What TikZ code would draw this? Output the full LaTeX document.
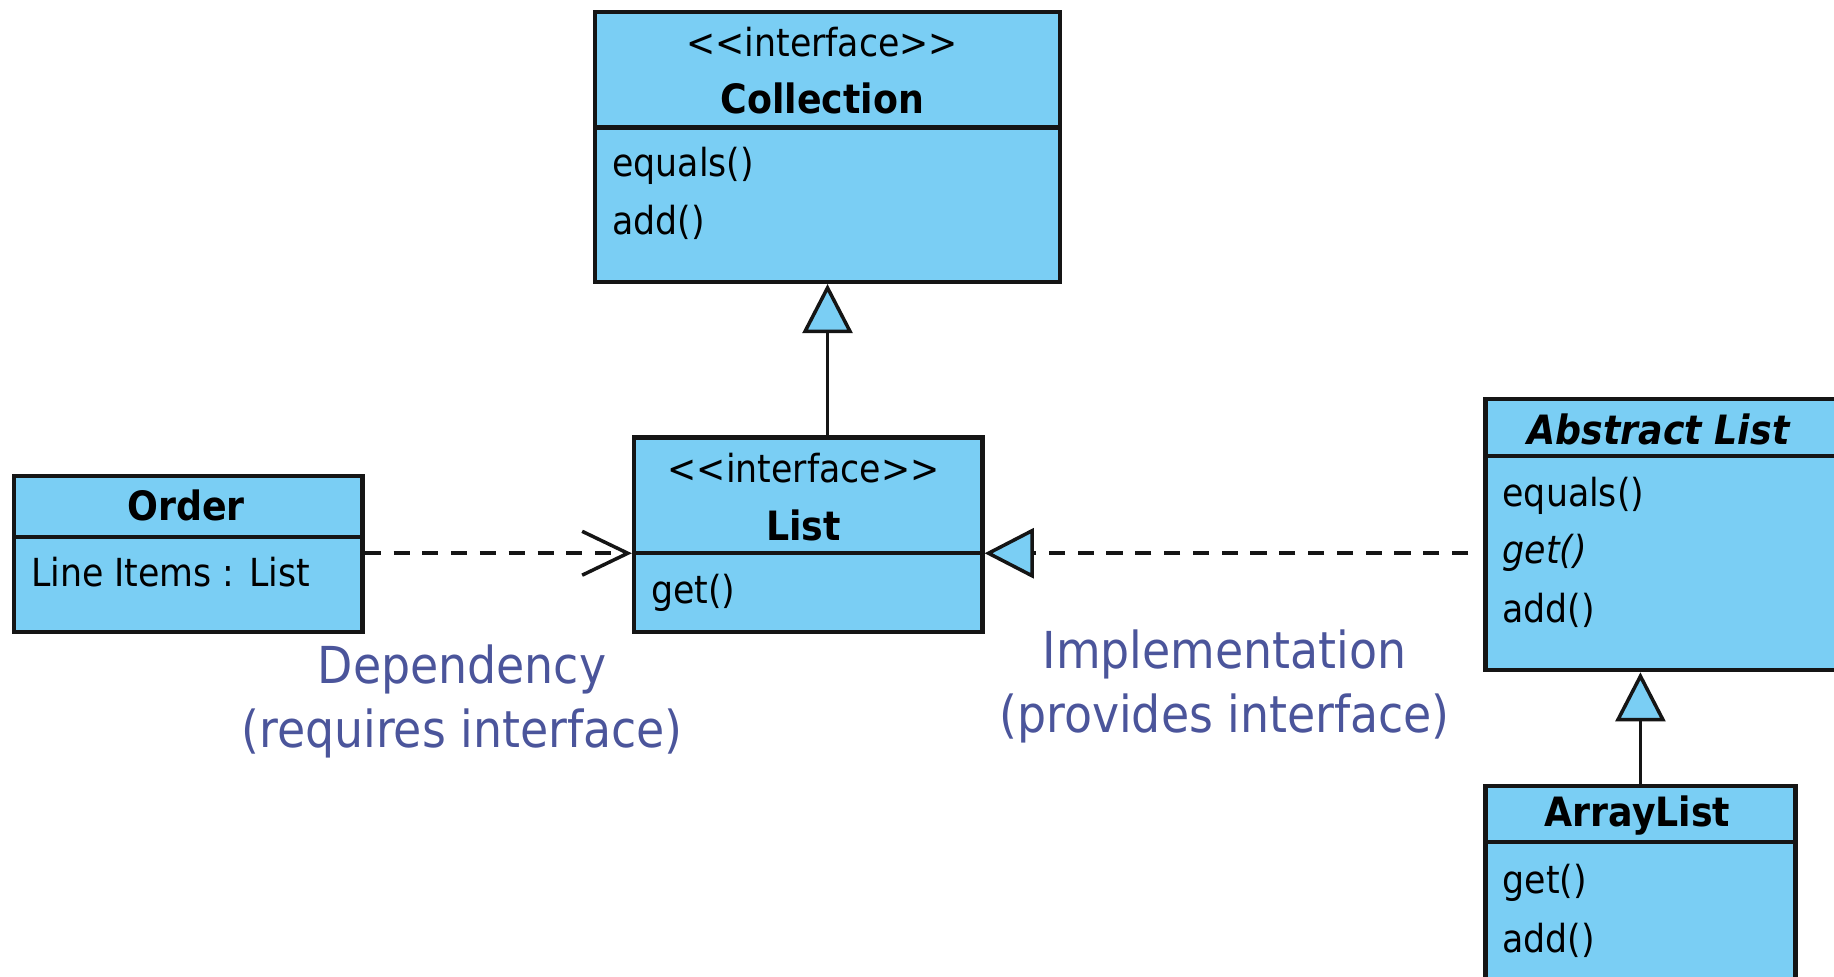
\documentclass[tikz,border=0pt]{standalone}
\usepackage{fontspec}
\setmainfont{DejaVu Sans Condensed}
\newfontfamily\umlfont{DejaVu Sans Condensed}
\usetikzlibrary{arrows.meta,fit}
\definecolor{umlblue}{HTML}{7ACEF4}
\definecolor{umlline}{HTML}{151515}
\definecolor{notecol}{HTML}{4B559B}
\tikzset{
  umlbox/.style={draw=umlline, fill=umlblue, line width=1.2pt, inner sep=0pt},
  divider/.style={draw=umlline, line width=1.2pt},
  head/.style={font=\umlfont\fontsize{11}{13}\selectfont, inner sep=0pt, anchor=center},
  headbold/.style={font=\umlfont\bfseries\fontsize{11.5}{13}\selectfont, inner sep=0pt, anchor=center},
  item/.style={font=\umlfont\fontsize{11}{13}\selectfont, inner sep=0pt, anchor=west},
  conn/.style={draw=umlline, line width=1pt},
  dashconn/.style={conn, dash pattern=on 4.6pt off 3.6pt},
  hollow/.style={-{Triangle[length=14pt, width=14.2pt, fill=umlblue, line width=1pt]}},
  barb/.style={-{Straight Barb[length=13pt, width=12.5pt, line width=1pt]}},
  note/.style={font=\fontsize{14.5}{18.3}\selectfont, text=notecol, align=center, inner sep=0pt},
}
\begin{document}
\begin{tikzpicture}[x=0.011696cm, y=-0.011696cm]
\useasboundingbox (0,0) rectangle (1568,835);

% Collection interface
\node[umlbox, fit={(509,10) (906,241)}] (coll) {};
\draw[divider] (509,109) -- (906,109);
\node[head] (collst) at (703,36) {<\kern0pt<interface>\kern0pt>};
\node[headbold] (colln) at (703,84) {Collection};
\node[item] (colleq) at (523,142) {equals()};
\node[item] (colladd) at (523,190) {add()};

% List interface
\node[umlbox, fit={(542,374) (840,540)}] (list) {};
\draw[divider] (542,473) -- (840,473);
\node[head] (listst) at (687,400) {<\kern0pt<interface>\kern0pt>};
\node[headbold] (listn) at (687,449) {List};
\node[item] (listget) at (556,507) {get()};

% Order class
\node[umlbox, fit={(12,407) (310,540)}] (order) {};
\draw[divider] (12,459) -- (310,459);
\node[headbold] (ordern) at (159,432) {Order};
\node[item] (orderli) at (26,489) {Line Items : List};

% Abstract List class
\node[umlbox, fit={(1270,341) (1580,573)}] (abs) {};
\draw[divider] (1270,390) -- (1580,390);
\node[headbold, font=\umlfont\bfseries\itshape\fontsize{11.5}{13}\selectfont] (absn) at (1418,367) {Abstract List};
\node[item] (abseq) at (1284,424) {equals()};
\node[item, font=\umlfont\itshape\fontsize{11}{13}\selectfont] (absget) at (1284,473) {get()};
\node[item] (absadd) at (1284,522) {add()};

% ArrayList class
\node[umlbox, fit={(1270,672) (1535,850)}] (arr) {};
\draw[divider] (1270,720) -- (1535,720);
\node[headbold] (arrn) at (1400,697) {ArrayList};
\node[item] (arrget) at (1284,755) {get()};
\node[item] (arradd) at (1284,804) {add()};

% Relations
\draw[conn, hollow] (list.north -| coll.south) -- (coll.south);
\draw[conn, hollow] (arr.north) -- (arr.north |- abs.south);
\draw[dashconn, barb] (order.east |- 0,473) -- (list.west |- 0,473);
\draw[dashconn, hollow, shorten <=4.3pt] (abs.west |- 0,473) -- (list.east |- 0,473);

% Notes
\node[note] (depnote) at (395,600) {Dependency\\(requires interface)};
\node[note] (implnote) at (1047,587) {Implementation\\(provides interface)};
\end{tikzpicture}
\end{document}
